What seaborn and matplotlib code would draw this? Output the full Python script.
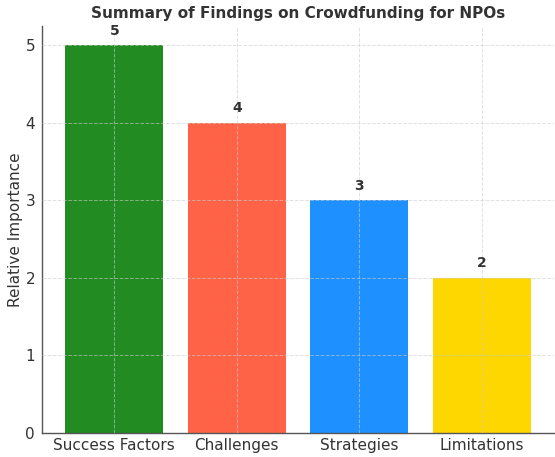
import matplotlib
matplotlib.use("Agg")
import matplotlib.pyplot as plt
import seaborn as sns
import pandas as pd

categories = ["Success Factors", "Challenges", "Strategies", "Limitations"]
values = [5, 4, 3, 2]
colors = ["#228B22", "#FF6347", "#1E90FF", "#FFD700"]

sns.set_style("white")
plt.rcParams['font.family'] = ['DejaVu Sans']

df = pd.DataFrame({"Category": categories, "Value": values})

fig = plt.figure(figsize=(5.55, 4.57), dpi=100)
ax = fig.add_axes([0.0757, 0.053, 0.923, 0.890])
sns.barplot(data=df, x="Category", y="Value", hue="Category", palette=colors,
            dodge=False, legend=False, saturation=1, width=0.8, ax=ax,
            linewidth=0)

for i, v in enumerate(values):
    ax.text(i, v + 0.1, str(v), ha="center", va="bottom", fontsize=10,
            fontweight="bold", color="#333333")

ax.set_ylim(0, 5.25)
ax.set_xlim(-0.59, 3.59)
ax.set_title("Summary of Findings on Crowdfunding for NPOs", fontsize=11,
             fontweight="bold", color="#333333", pad=6)
ax.set_xlabel("")
ax.set_ylabel("Relative Importance", fontsize=11, color="#333333", labelpad=2)
ax.tick_params(axis="both", labelsize=11, colors="#333333", length=3, pad=2)
ax.tick_params(axis="x", pad=1)
ax.set_axisbelow(False)
ax.grid(True, linestyle="--", color="#CCCCCC", linewidth=0.7, alpha=0.6)
for s in ["top", "right"]:
    ax.spines[s].set_visible(False)
for s in ["left", "bottom"]:
    ax.spines[s].set_color("#555555")
    ax.spines[s].set_linewidth(1.0)

fig.savefig("out.png", dpi=100)
